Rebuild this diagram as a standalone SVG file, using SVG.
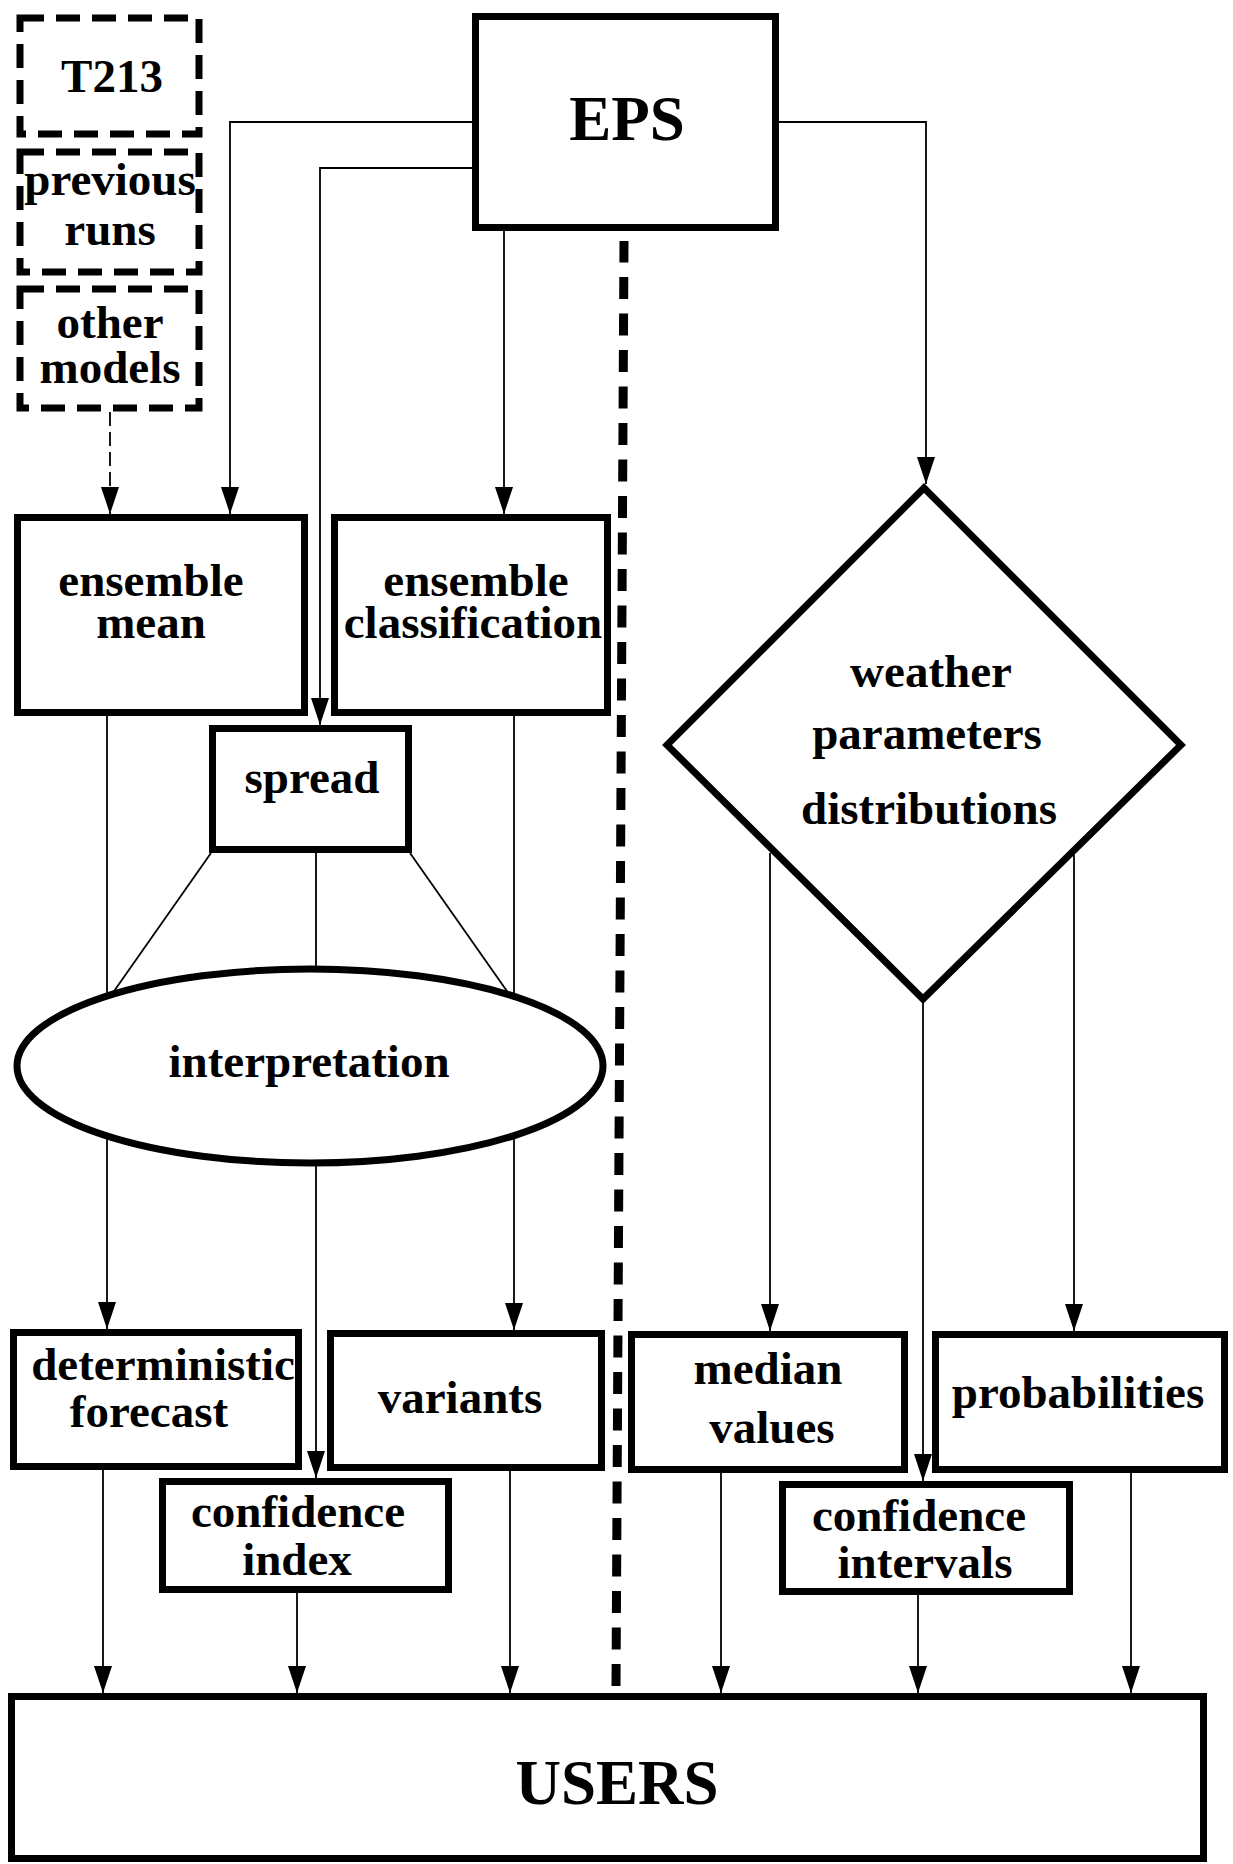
<svg xmlns="http://www.w3.org/2000/svg" width="1233" height="1864" viewBox="0 0 1233 1864">
<style>
.box{fill:#fff;stroke:#000;stroke-width:7}
.dbox{fill:none;stroke:#000;stroke-width:7;stroke-dasharray:24 12}
.t{font-family:"Liberation Serif","Times New Roman",serif;font-weight:bold;font-size:47px;text-anchor:middle;fill:#000}
.big{font-size:63px}
.c{fill:none;stroke:#000;stroke-width:1.8}
.ca{fill:none;stroke:#000;stroke-width:1.8;marker-end:url(#ah)}
</style>
<defs>
<marker id="ah" viewBox="0 0 27 20" refX="27" refY="10" markerWidth="27" markerHeight="20" markerUnits="userSpaceOnUse" orient="auto">
<path d="M0,1 L27,10 L0,19 z" fill="#000"/>
</marker>
</defs>
<rect width="1233" height="1864" fill="#fff"/>
<g id="connectors">
<path class="ca" d="M472,122 H230 V514"/>
<path class="ca" d="M472,168 H320 V725"/>
<path class="ca" d="M504,231 V514"/>
<path class="ca" d="M779,122 H926 V484"/>
<path class="ca" d="M110,412 V514" style="stroke-dasharray:14 6"/>
<path class="ca" d="M107,716 V1329"/>
<path class="ca" d="M514,716 V1330"/>
<path class="ca" d="M316,853 V1478"/>
<path class="c" d="M211,853 L112,994"/>
<path class="c" d="M410,853 L509,994"/>
<path class="ca" d="M770,853 V1331"/>
<path class="ca" d="M923,1000 V1481"/>
<path class="ca" d="M1074,855 V1331"/>
<path class="ca" d="M103,1470 V1693"/>
<path class="ca" d="M297,1593 V1693"/>
<path class="ca" d="M510,1471 V1693"/>
<path class="ca" d="M721,1473 V1693"/>
<path class="ca" d="M918,1595 V1693"/>
<path class="ca" d="M1131,1473 V1693"/>
<path d="M616,1686 L624,241" fill="none" stroke="#000" stroke-width="9" stroke-dasharray="22 14.5"/>
</g>
<g id="t213"><rect class="dbox" x="20" y="18" width="179" height="116"/><text class="t" x="112" y="92">T213</text></g>
<g id="previous-runs"><rect class="dbox" x="20" y="152" width="179" height="120"/><text class="t" x="110" y="195">previous</text><text class="t" x="110" y="245">runs</text></g>
<g id="other-models"><rect class="dbox" x="20" y="289" width="179" height="119"/><text class="t" x="110" y="338">other</text><text class="t" x="110" y="383">models</text></g>
<g id="eps"><rect class="box" x="475.5" y="16.5" width="300" height="211"/><text class="t big" x="627" y="140">EPS</text></g>
<g id="ensemble-mean"><rect class="box" x="17.5" y="517.5" width="287" height="195"/><text class="t" x="151" y="596">ensemble</text><text class="t" x="151" y="638">mean</text></g>
<g id="ensemble-classification"><rect class="box" x="334.5" y="517.5" width="273" height="195"/><text class="t" x="476" y="596">ensemble</text><text class="t" x="473" y="638">classification</text></g>
<g id="spread"><rect class="box" x="212.5" y="728.5" width="196" height="121"/><text class="t" x="312" y="793">spread</text></g>
<g id="interpretation"><ellipse class="box" cx="310" cy="1066" rx="293" ry="97"/><text class="t" x="309" y="1077">interpretation</text></g>
<g id="weather-parameters"><polygon class="box" points="924,488 1181,745 923,999 667,745"/><text class="t" x="931" y="687">weather</text><text class="t" x="927" y="749">parameters</text><text class="t" x="929" y="824">distributions</text></g>
<g id="deterministic-forecast"><rect class="box" x="13.5" y="1332.5" width="285" height="134"/><text class="t" x="163" y="1380">deterministic</text><text class="t" x="149" y="1427">forecast</text></g>
<g id="variants"><rect class="box" x="330.5" y="1333.5" width="271" height="134"/><text class="t" x="460" y="1413">variants</text></g>
<g id="confidence-index"><rect class="box" x="162.5" y="1481.5" width="286" height="108"/><text class="t" x="298" y="1527">confidence</text><text class="t" x="297" y="1575">index</text></g>
<g id="median-values"><rect class="box" x="631.5" y="1334.5" width="273" height="135"/><text class="t" x="768" y="1384">median</text><text class="t" x="772" y="1443">values</text></g>
<g id="probabilities"><rect class="box" x="935.5" y="1334.5" width="289" height="135"/><text class="t" x="1078" y="1408">probabilities</text></g>
<g id="confidence-intervals"><rect class="box" x="782.5" y="1484.5" width="287" height="107"/><text class="t" x="919" y="1531">confidence</text><text class="t" x="925" y="1578">intervals</text></g>
<g id="users"><rect class="box" x="11.5" y="1696.5" width="1192" height="162"/><text class="t big" x="617" y="1804">USERS</text></g>
</svg>
